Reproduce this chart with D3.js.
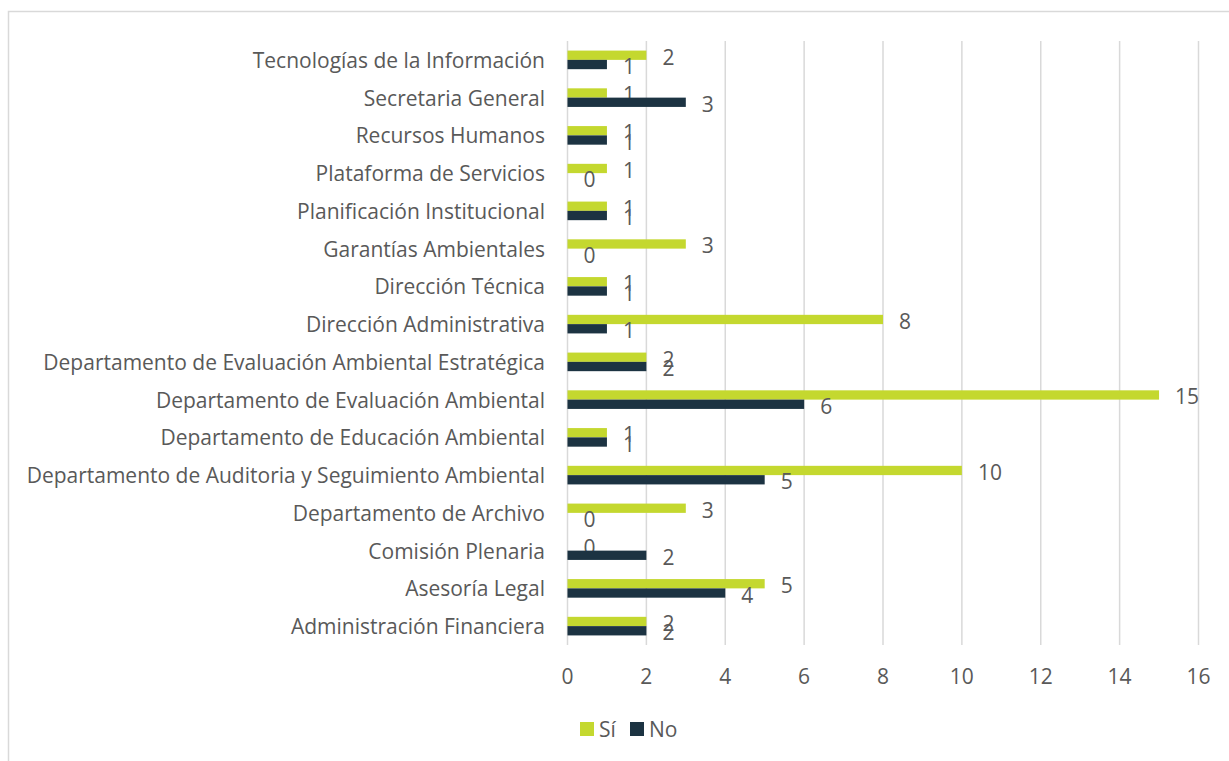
<!DOCTYPE html>
<html>
<head>
<meta charset="utf-8">
<script src="https://cdn.jsdelivr.net/npm/d3@7"></script>
<style>
  body { margin: 0; background: #fff; }
  svg { display: block; font-family: "Open Sans", sans-serif; }
</style>
</head>
<body>
<svg id="chart" width="1229" height="761"></svg>
<script>
// categories, top to bottom as drawn
const categories = [
  "Tecnologías de la Información",
  "Secretaria General",
  "Recursos Humanos",
  "Plataforma de Servicios",
  "Planificación Institucional",
  "Garantías Ambientales",
  "Dirección Técnica",
  "Dirección Administrativa",
  "Departamento de Evaluación Ambiental Estratégica",
  "Departamento de Evaluación Ambiental",
  "Departamento de Educación Ambiental",
  "Departamento de Auditoria y Seguimiento Ambiental",
  "Departamento de Archivo",
  "Comisión Plenaria",
  "Asesoría Legal",
  "Administración Financiera"
];
const siValues = [2, 1, 1, 1, 1, 3, 1, 8, 2, 15, 1, 10, 3, 0, 5, 2];
const noValues = [1, 3, 1, 0, 1, 0, 1, 1, 2, 6, 1, 5, 0, 2, 4, 2];
const xTicks = [0, 2, 4, 6, 8, 10, 12, 14, 16];
const seriesNames = ["Sí", "No"];
const seriesColors = ["#c4d82f", "#1c3342"];

const svg = d3.select("#chart");
const textColor = "#595959";
const fs = 21;

// outer frame (runs past the right/bottom edge like the original)
svg.append("rect")
  .attr("x", 8.5).attr("y", 11.5)
  .attr("width", 1260).attr("height", 800)
  .attr("fill", "none")
  .attr("stroke", "#d9d9d9")
  .attr("stroke-width", 1.5);

const x = d3.scaleLinear().domain([0, 16]).range([567.5, 1198.5]);
const y = d3.scaleBand().domain(categories).range([41, 645]);
const inner = d3.scaleBand().domain([0, 1]).range([0, y.bandwidth()]).paddingOuter(1.03);

// gridlines
svg.append("g")
  .selectAll("line")
  .data(xTicks)
  .join("line")
  .attr("x1", d => x(d)).attr("x2", d => x(d))
  .attr("y1", 41).attr("y2", 645)
  .attr("stroke", "#d9d9d9")
  .attr("stroke-width", 1.5);

// x tick labels
svg.append("g")
  .selectAll("text")
  .data(xTicks)
  .join("text")
  .attr("x", d => x(d))
  .attr("y", 676)
  .attr("text-anchor", "middle")
  .attr("dominant-baseline", "central")
  .attr("fill", textColor)
  .attr("font-size", fs)
  .text(d => d);

// category labels
svg.append("g")
  .selectAll("text")
  .data(categories)
  .join("text")
  .attr("x", 545)
  .attr("y", d => y(d) + y.bandwidth() / 2)
  .attr("text-anchor", "end")
  .attr("dominant-baseline", "central")
  .attr("fill", textColor)
  .attr("font-size", fs)
  .text(d => d);

const series = [siValues, noValues];

series.forEach((vals, si) => {
  const g = svg.append("g");
  g.selectAll("rect")
    .data(categories)
    .join("rect")
    .attr("x", x(0))
    .attr("y", d => y(d) + inner(si))
    .attr("width", (d, i) => x(vals[i]) - x(0))
    .attr("height", inner.bandwidth())
    .attr("fill", seriesColors[si]);

  g.selectAll("text")
    .data(categories)
    .join("text")
    .attr("x", (d, i) => x(vals[i]) + 16)
    .attr("y", d => y(d) + inner(si) + inner.bandwidth() / 2 + 1.5)
    .attr("dominant-baseline", "central")
    .attr("fill", textColor)
    .attr("font-size", fs)
    .text((d, i) => vals[i]);
});

// legend
const legend = svg.append("g").attr("transform", "translate(580,729)");
const items = [{ name: seriesNames[0], color: seriesColors[0], dx: 0 },
               { name: seriesNames[1], color: seriesColors[1], dx: 50 }];
items.forEach(it => {
  legend.append("rect")
    .attr("x", it.dx).attr("y", -7)
    .attr("width", 14).attr("height", 14)
    .attr("fill", it.color);
  legend.append("text")
    .attr("x", it.dx + 19).attr("y", 0)
    .attr("dominant-baseline", "central")
    .attr("fill", textColor)
    .attr("font-size", fs)
    .text(it.name);
});
</script>
</body>
</html>
